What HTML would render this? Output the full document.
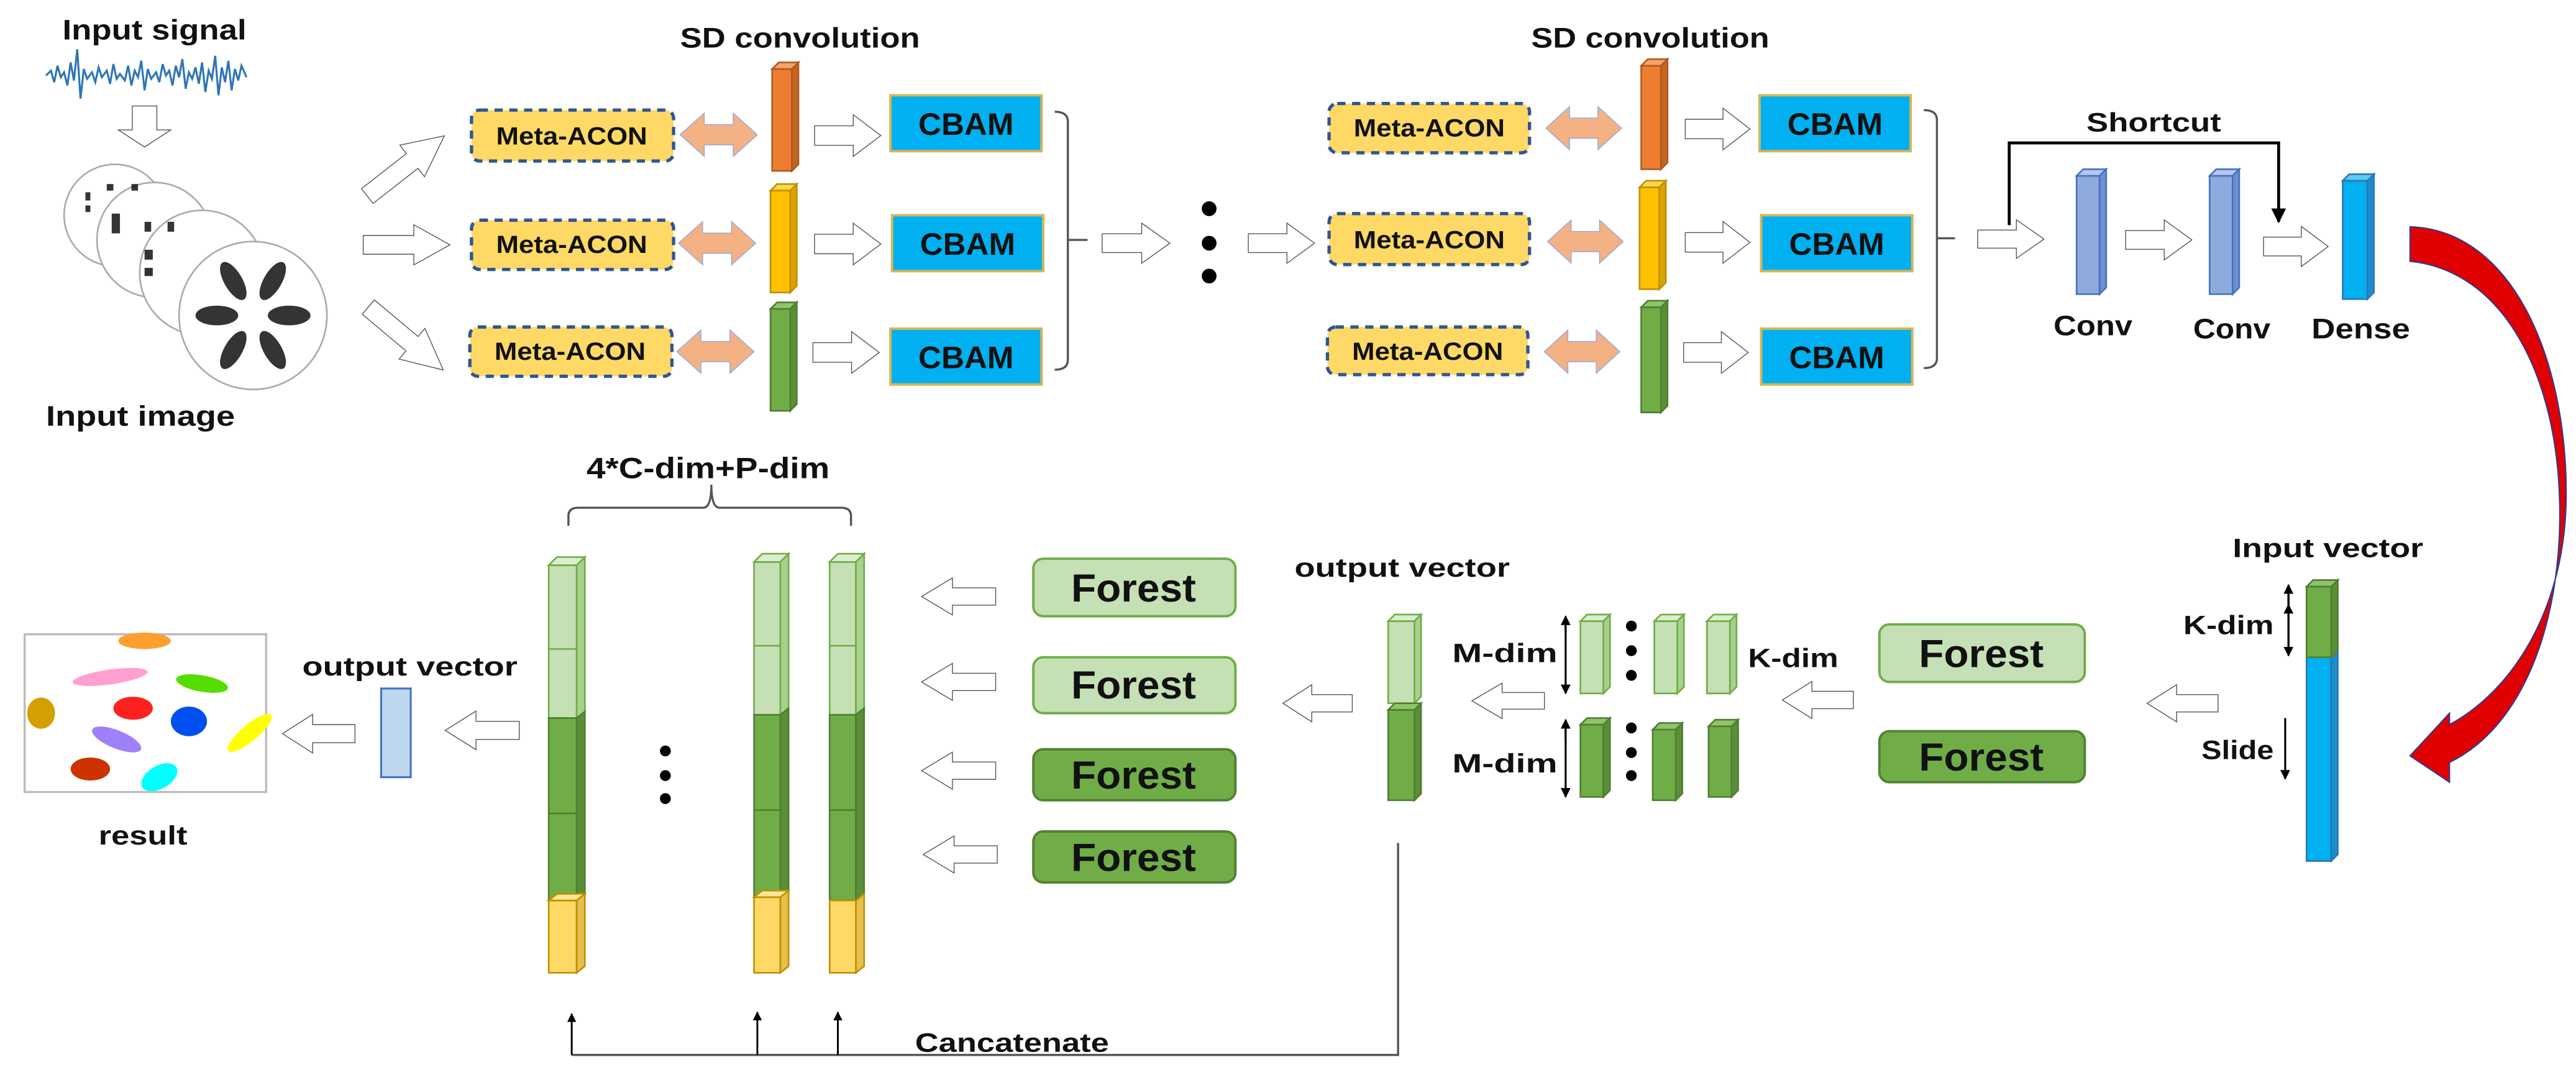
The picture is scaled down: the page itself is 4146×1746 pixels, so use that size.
<!DOCTYPE html>
<html><head><meta charset="utf-8"><style>
html,body{margin:0;padding:0;background:#fff;}
svg{display:block;}
text{font-family:"Liberation Sans",sans-serif;font-weight:bold;fill:#111;}
</style></head><body>
<svg width="4146" height="1746" viewBox="0 0 1568 660.3" preserveAspectRatio="none" xmlns="http://www.w3.org/2000/svg">
<defs>
<symbol id="ar" viewBox="0 0 100 100" preserveAspectRatio="none"><path d="M2,28 H58 V3 L98,50 L58,97 V72 H2 Z" fill="#fff" stroke="#555" stroke-width="1.4" vector-effect="non-scaling-stroke"/></symbol>
<symbol id="al" viewBox="0 0 100 100" preserveAspectRatio="none"><path d="M98,28 H42 V3 L2,50 L42,97 V72 H98 Z" fill="#fff" stroke="#555" stroke-width="1.4" vector-effect="non-scaling-stroke"/></symbol>
<symbol id="da" viewBox="0 0 100 100" preserveAspectRatio="none"><path d="M2,50 L32,3 V28 H68 V3 L98,50 L68,97 V72 H32 V97 Z" fill="#F4B183" stroke="#8FAADC" stroke-width="1.4" vector-effect="non-scaling-stroke"/></symbol>
<marker id="mh" viewBox="0 0 10 10" refX="9" refY="5" markerWidth="5" markerHeight="5" orient="auto"><path d="M0,0 L10,5 L0,10 Z" fill="#000"/></marker>
</defs>

<!-- Input signal -->
<text x="38" y="24" font-size="17" textLength="112" lengthAdjust="spacingAndGlyphs">Input signal</text>
<polyline fill="none" stroke="#2E75B6" stroke-width="1.2" points="28,46 31,43 33,50 35,40 37,47 39,44 41,52 43,38 45,49 47,30 49,60 51,42 53,48 56,44 58,50 60,41 62,47 65,43 67,51 69,39 71,48 73,45 76,49 78,40 80,52 82,43 84,47 86,37 88,55 90,42 92,48 95,44 97,50 99,39 101,46 103,43 105,52 107,40 109,47 111,36 113,54 115,44 117,48 119,41 121,51 123,38 125,56 127,43 129,48 131,34 133,58 135,41 137,50 139,37 141,55 143,42 145,49 147,40 150,47"/>
<use href="#al" x="75" y="60" width="26" height="34" transform="rotate(-90 88 77)"/>
<!-- polar plots -->
<g fill="#fff" stroke="#aaa" stroke-width="1">
<circle cx="70" cy="131" r="31"/>
<circle cx="94" cy="146" r="35"/>
<circle cx="123" cy="166" r="38"/>
<circle cx="154" cy="192" r="45"/>
</g>
<g fill="#111" opacity="0.85">
<rect x="52" y="117" width="3" height="5"/><rect x="52" y="125" width="3" height="4"/>
<rect x="65" y="112" width="4" height="4"/><rect x="80" y="112" width="4" height="4"/>
<rect x="68" y="130" width="5" height="12"/>
<rect x="88" y="135" width="4" height="6"/><rect x="102" y="135" width="4" height="6"/>
<rect x="88" y="152" width="5" height="6"/><rect x="88" y="163" width="5" height="5"/>
<ellipse cx="132" cy="192" rx="13" ry="6"/><ellipse cx="176" cy="192" rx="13" ry="6"/>
<ellipse cx="142" cy="171" rx="13" ry="5.5" transform="rotate(60 142 171)"/>
<ellipse cx="166" cy="171" rx="13" ry="5.5" transform="rotate(-60 166 171)"/>
<ellipse cx="142" cy="213" rx="13" ry="5.5" transform="rotate(-60 142 213)"/>
<ellipse cx="166" cy="213" rx="13" ry="5.5" transform="rotate(60 166 213)"/>
</g>
<text x="28" y="259" font-size="17" textLength="115" lengthAdjust="spacingAndGlyphs">Input image</text>

<!-- diag arrows -->
<use href="#ar" x="-31" y="-13" width="62" height="26" transform="translate(247,101) rotate(-38)"/>
<use href="#ar" x="220" y="136" width="55" height="26"/>
<use href="#ar" x="-31" y="-13" width="62" height="26" transform="translate(247,206) rotate(40)"/>

<text x="414" y="29" font-size="17" textLength="146" lengthAdjust="spacingAndGlyphs">SD convolution</text>
<text x="932" y="29" font-size="17" textLength="145" lengthAdjust="spacingAndGlyphs">SD convolution</text>

<!-- meta-acon group 1 -->
<g fill="#FFD966" stroke="#2F5597" stroke-width="2" stroke-dasharray="5,4">
<rect x="287" y="67" width="123" height="31" rx="5"/>
<rect x="287" y="134" width="123" height="30" rx="5"/>
<rect x="286" y="199" width="123" height="30" rx="5"/>
<rect x="809" y="63" width="122" height="30" rx="5"/>
<rect x="809" y="130" width="122" height="31" rx="5"/>
<rect x="808" y="199" width="122" height="29" rx="5"/>
</g>
<g font-size="15" text-anchor="middle">
<text x="348" y="88" textLength="92" lengthAdjust="spacingAndGlyphs">Meta-ACON</text>
<text x="348" y="154" textLength="92" lengthAdjust="spacingAndGlyphs">Meta-ACON</text>
<text x="347" y="219" textLength="92" lengthAdjust="spacingAndGlyphs">Meta-ACON</text>
<text x="870" y="83" textLength="92" lengthAdjust="spacingAndGlyphs">Meta-ACON</text>
<text x="870" y="151" textLength="92" lengthAdjust="spacingAndGlyphs">Meta-ACON</text>
<text x="869" y="219" textLength="92" lengthAdjust="spacingAndGlyphs">Meta-ACON</text>
</g>
<use href="#da" x="413" y="68" width="49" height="28"/>
<use href="#da" x="412" y="134" width="49" height="28"/>
<use href="#da" x="411" y="200" width="49" height="28"/>
<use href="#da" x="940" y="64" width="48" height="28"/>
<use href="#da" x="941" y="133" width="48" height="28"/>
<use href="#da" x="939" y="200" width="48" height="28"/>

<!-- conv bars -->
<g stroke-width="1">
<g fill="#ED7D31" stroke="#AE5A21"><rect x="470" y="42" width="12" height="62"/><polygon points="470,42 474,38 486,38 482,42" fill="#F4A46A"/><polygon points="482,42 486,38 486,100 482,104" fill="#C5651F"/></g>
<g fill="#FFC000" stroke="#BF9000"><rect x="469" y="116" width="12" height="62"/><polygon points="469,116 473,112 485,112 481,116" fill="#FFD74D"/><polygon points="481,116 485,112 485,174 481,178" fill="#D9A300"/></g>
<g fill="#70AD47" stroke="#507E32"><rect x="469" y="188" width="12" height="62"/><polygon points="469,188 473,184 485,184 481,188" fill="#8FC46A"/><polygon points="481,188 485,184 485,246 481,250" fill="#5A8F37"/></g>
<g fill="#ED7D31" stroke="#AE5A21"><rect x="999" y="40" width="12" height="63"/><polygon points="999,40 1003,36 1015,36 1011,40" fill="#F4A46A"/><polygon points="1011,40 1015,36 1015,99 1011,103" fill="#C5651F"/></g>
<g fill="#FFC000" stroke="#BF9000"><rect x="998" y="114" width="12" height="62"/><polygon points="998,114 1002,110 1014,110 1010,114" fill="#FFD74D"/><polygon points="1010,114 1014,110 1014,172 1010,176" fill="#D9A300"/></g>
<g fill="#70AD47" stroke="#507E32"><rect x="999" y="187" width="12" height="64"/><polygon points="999,187 1003,183 1015,183 1011,187" fill="#8FC46A"/><polygon points="1011,187 1015,183 1015,247 1011,251" fill="#5A8F37"/></g>
</g>
<use href="#ar" x="495" y="69" width="42" height="27"/>
<use href="#ar" x="495" y="135" width="42" height="27"/>
<use href="#ar" x="494" y="201" width="42" height="27"/>
<use href="#ar" x="1025" y="65" width="41" height="27"/>
<use href="#ar" x="1025" y="134" width="41" height="27"/>
<use href="#ar" x="1024" y="201" width="41" height="27"/>

<!-- CBAM -->
<g fill="#00B0F0" stroke="#D6B656" stroke-width="1.5">
<rect x="542" y="58" width="92" height="34"/>
<rect x="543" y="131" width="92" height="34"/>
<rect x="542" y="200" width="92" height="34"/>
<rect x="1071" y="58" width="92" height="34"/>
<rect x="1072" y="131" width="92" height="34"/>
<rect x="1072" y="200" width="92" height="34"/>
</g>
<g font-size="19" text-anchor="middle">
<text x="588" y="82" textLength="58" lengthAdjust="spacingAndGlyphs">CBAM</text>
<text x="589" y="155" textLength="58" lengthAdjust="spacingAndGlyphs">CBAM</text>
<text x="588" y="224" textLength="58" lengthAdjust="spacingAndGlyphs">CBAM</text>
<text x="1117" y="82" textLength="58" lengthAdjust="spacingAndGlyphs">CBAM</text>
<text x="1118" y="155" textLength="58" lengthAdjust="spacingAndGlyphs">CBAM</text>
<text x="1118" y="224" textLength="58" lengthAdjust="spacingAndGlyphs">CBAM</text>
</g>
<!-- brackets -->
<g fill="none" stroke="#555" stroke-width="1.3">
<path d="M642,68 Q650,68 650,74 V219 Q650,225 642,225 M650,146 H662"/>
<path d="M1171,67 Q1179,67 1179,73 V218 Q1179,224 1171,224 M1179,145 H1190"/>
</g>
<use href="#ar" x="670" y="135" width="43" height="26"/>
<g fill="#000"><circle cx="736" cy="127" r="4.5"/><circle cx="736" cy="148" r="4.5"/><circle cx="736" cy="168" r="4.5"/></g>
<use href="#ar" x="759" y="135" width="42" height="26"/>

<!-- Shortcut section -->
<use href="#ar" x="1203" y="133" width="42" height="25"/>
<g stroke="#4472C4" stroke-width="1">
<rect x="1264" y="107" width="14" height="72" fill="#8FAADC"/><polygon points="1264,107 1268,103 1282,103 1278,107" fill="#B4C7E7"/><polygon points="1278,107 1282,103 1282,175 1278,179" fill="#6F8FCF"/>
<rect x="1345" y="107" width="14" height="72" fill="#8FAADC"/><polygon points="1345,107 1349,103 1363,103 1359,107" fill="#B4C7E7"/><polygon points="1359,107 1363,103 1363,175 1359,179" fill="#6F8FCF"/>
</g>
<g stroke="#2E75B6" stroke-width="1">
<rect x="1426" y="110" width="15" height="72" fill="#00B0F0"/><polygon points="1426,110 1430,106 1445,106 1441,110" fill="#5CCBF5"/><polygon points="1441,110 1445,106 1445,178 1441,182" fill="#1A8DCC"/>
</g>
<use href="#ar" x="1293" y="133" width="42" height="26"/>
<use href="#ar" x="1377" y="137" width="41" height="26"/>
<path d="M1223,137 V87 H1387 V135" fill="none" stroke="#000" stroke-width="1.8" marker-end="url(#mh)"/>
<text x="1270" y="80" font-size="16" textLength="82" lengthAdjust="spacingAndGlyphs">Shortcut</text>
<text x="1250" y="204" font-size="17" textLength="48" lengthAdjust="spacingAndGlyphs">Conv</text>
<text x="1335" y="206" font-size="17" textLength="47" lengthAdjust="spacingAndGlyphs">Conv</text>
<text x="1407" y="206" font-size="17" textLength="60" lengthAdjust="spacingAndGlyphs">Dense</text>

<!-- red arrow -->
<path d="M1467,138 C1530,140 1563,220 1562,304 C1561,370 1530,420 1491,441 L1491,434 L1467,460 L1491,476 L1491,464 C1540,440 1560,370 1558,304 C1556,230 1525,165 1467,159 Z" fill="#E00000" stroke="#2F3B8F" stroke-width="0.8"/>

<!-- input vector -->
<text x="1359" y="339" font-size="16" textLength="116" lengthAdjust="spacingAndGlyphs">Input vector</text>
<g stroke-width="1">
<rect x="1404" y="400" width="15" height="124" fill="#00B0F0" stroke="#2E75B6"/>
<polygon points="1419,400 1423,396 1423,520 1419,524" fill="#1A8DCC" stroke="#2E75B6"/>
<rect x="1404" y="357" width="15" height="43" fill="#70AD47" stroke="#507E32"/>
<polygon points="1404,357 1408,353 1423,353 1419,357" fill="#8FC46A" stroke="#507E32"/>
<polygon points="1419,357 1423,353 1423,396 1419,400" fill="#5A8F37" stroke="#507E32"/>
</g>
<g stroke="#000" stroke-width="1.2" marker-end="url(#mh)" marker-start="url(#mh)">
<line x1="1393" y1="368" x2="1393" y2="356"/>
</g>
<line x1="1393" y1="358" x2="1393" y2="399" stroke="#000" stroke-width="1.2" marker-end="url(#mh)"/>
<line x1="1393" y1="399" x2="1393" y2="356" stroke="#000" stroke-width="1.2" marker-end="url(#mh)"/>
<line x1="1391" y1="437" x2="1391" y2="474" stroke="#000" stroke-width="1.2" marker-end="url(#mh)"/>
<text x="1329" y="386" font-size="16" textLength="55" lengthAdjust="spacingAndGlyphs">K-dim</text>
<text x="1340" y="462" font-size="16" textLength="44" lengthAdjust="spacingAndGlyphs">Slide</text>
<use href="#al" x="1306" y="416" width="45" height="24"/>

<!-- forest pair -->
<rect x="1144" y="380" width="125" height="35" rx="6" fill="#C5E0B4" stroke="#70AD47" stroke-width="1.5"/>
<rect x="1144" y="445" width="125" height="31" rx="6" fill="#70AD47" stroke="#548235" stroke-width="1.5"/>
<text x="1206" y="406" font-size="24" text-anchor="middle" textLength="76" lengthAdjust="spacingAndGlyphs">Forest</text>
<text x="1206" y="469" font-size="24" text-anchor="middle" textLength="76" lengthAdjust="spacingAndGlyphs">Forest</text>
<use href="#al" x="1084" y="414" width="45" height="24"/>
<text x="1064" y="406" font-size="16" textLength="55" lengthAdjust="spacingAndGlyphs">K-dim</text>

<!-- small bars -->
<g stroke="#70AD47" stroke-width="1">
<g fill="#C5E0B4"><rect x="962" y="378" width="14" height="44"/><polygon points="962,378 966,374 980,374 976,378" fill="#DCEDD0"/><polygon points="976,378 980,374 980,418 976,422" fill="#A9D18E"/></g>
<g fill="#C5E0B4"><rect x="1007" y="378" width="14" height="44"/><polygon points="1007,378 1011,374 1025,374 1021,378" fill="#DCEDD0"/><polygon points="1021,378 1025,374 1025,418 1021,422" fill="#A9D18E"/></g>
<g fill="#C5E0B4"><rect x="1039" y="378" width="14" height="44"/><polygon points="1039,378 1043,374 1057,374 1053,378" fill="#DCEDD0"/><polygon points="1053,378 1057,374 1057,418 1053,422" fill="#A9D18E"/></g>
</g>
<g stroke="#507E32" stroke-width="1">
<g fill="#70AD47"><rect x="962" y="441" width="14" height="44"/><polygon points="962,441 966,437 980,437 976,441" fill="#8FC46A"/><polygon points="976,441 980,437 980,481 976,485" fill="#5A8F37"/></g>
<g fill="#70AD47"><rect x="1006" y="444" width="14" height="43"/><polygon points="1006,444 1010,440 1024,440 1020,444" fill="#8FC46A"/><polygon points="1020,444 1024,440 1024,483 1020,487" fill="#5A8F37"/></g>
<g fill="#70AD47"><rect x="1040" y="442" width="14" height="43"/><polygon points="1040,442 1044,438 1058,438 1054,442" fill="#8FC46A"/><polygon points="1054,442 1058,438 1058,481 1054,485" fill="#5A8F37"/></g>
</g>
<g fill="#000"><circle cx="993" cy="381" r="3.3"/><circle cx="993" cy="396" r="3.3"/><circle cx="993" cy="411" r="3.3"/><circle cx="993" cy="443" r="3.3"/><circle cx="993" cy="458" r="3.3"/><circle cx="993" cy="472" r="3.3"/></g>
<line x1="953" y1="385" x2="953" y2="375" stroke="#000" stroke-width="1.2" marker-end="url(#mh)"/>
<line x1="953" y1="380" x2="953" y2="422" stroke="#000" stroke-width="1.2" marker-end="url(#mh)"/>
<line x1="953" y1="450" x2="953" y2="438" stroke="#000" stroke-width="1.2" marker-end="url(#mh)"/>
<line x1="953" y1="443" x2="953" y2="485" stroke="#000" stroke-width="1.2" marker-end="url(#mh)"/>
<text x="884" y="403" font-size="16" textLength="64" lengthAdjust="spacingAndGlyphs">M-dim</text>
<text x="884" y="470" font-size="16" textLength="64" lengthAdjust="spacingAndGlyphs">M-dim</text>
<use href="#al" x="895" y="415" width="46" height="23"/>

<!-- output vector bar -->
<text x="788" y="351" font-size="16" textLength="131" lengthAdjust="spacingAndGlyphs">output vector</text>
<g stroke-width="1">
<rect x="845" y="378" width="16" height="50" fill="#C5E0B4" stroke="#70AD47"/>
<polygon points="845,378 849,374 865,374 861,378" fill="#DCEDD0" stroke="#70AD47"/>
<polygon points="861,378 865,374 865,424 861,428" fill="#A9D18E" stroke="#70AD47"/>
<rect x="845" y="432" width="16" height="55" fill="#70AD47" stroke="#507E32"/>
<polygon points="845,432 849,428 865,428 861,432" fill="#8FC46A" stroke="#507E32"/>
<polygon points="861,432 865,428 865,483 861,487" fill="#5A8F37" stroke="#507E32"/>
</g>
<use href="#al" x="780" y="416" width="44" height="24"/>
<path d="M851,513 V642 H348" fill="none" stroke="#555" stroke-width="1.3"/>
<line x1="348" y1="642" x2="348" y2="617" stroke="#000" stroke-width="1.1" marker-end="url(#mh)"/>
<line x1="461" y1="642" x2="461" y2="616" stroke="#000" stroke-width="1.1" marker-end="url(#mh)"/>
<line x1="510" y1="642" x2="510" y2="616" stroke="#000" stroke-width="1.1" marker-end="url(#mh)"/>
<text x="557" y="640" font-size="16" textLength="118" lengthAdjust="spacingAndGlyphs">Cancatenate</text>

<!-- Forest x4 -->
<rect x="629" y="340" width="123" height="35" rx="6" fill="#C5E0B4" stroke="#70AD47" stroke-width="1.5"/>
<rect x="629" y="400" width="123" height="34" rx="6" fill="#C5E0B4" stroke="#70AD47" stroke-width="1.5"/>
<rect x="629" y="456" width="123" height="31" rx="6" fill="#70AD47" stroke="#548235" stroke-width="1.5"/>
<rect x="629" y="506" width="123" height="31" rx="6" fill="#70AD47" stroke="#548235" stroke-width="1.5"/>
<g font-size="24" text-anchor="middle">
<text x="690" y="366" textLength="76" lengthAdjust="spacingAndGlyphs">Forest</text>
<text x="690" y="425" textLength="76" lengthAdjust="spacingAndGlyphs">Forest</text>
<text x="690" y="480" textLength="76" lengthAdjust="spacingAndGlyphs">Forest</text>
<text x="690" y="530" textLength="76" lengthAdjust="spacingAndGlyphs">Forest</text>
</g>
<use href="#al" x="560" y="351" width="47" height="24"/>
<use href="#al" x="560" y="403" width="47" height="24"/>
<use href="#al" x="560" y="457" width="47" height="24"/>
<use href="#al" x="561" y="508" width="47" height="24"/>

<!-- tall bars -->
<g stroke-width="1">
<!-- A -->
<g transform="translate(334,0)">
<rect x="0" y="344" width="17" height="93" fill="#C5E0B4" stroke="#70AD47"/><line x1="0" y1="395" x2="17" y2="395" stroke="#70AD47"/>
<polygon points="0,344 5,339 22,339 17,344" fill="#DCEDD0" stroke="#70AD47"/><polygon points="17,344 22,339 22,433 17,437" fill="#A9D18E" stroke="#70AD47"/>
<rect x="0" y="437" width="17" height="111" fill="#70AD47" stroke="#507E32"/><line x1="0" y1="495" x2="17" y2="495" stroke="#507E32"/>
<polygon points="17,437 22,433 22,544 17,548" fill="#5A8F37" stroke="#507E32"/>
<rect x="0" y="548" width="17" height="44" fill="#FFD966" stroke="#BF9000"/>
<polygon points="0,548 5,544 22,544 17,548" fill="#FFE699" stroke="#BF9000"/><polygon points="17,548 22,544 22,588 17,592" fill="#E6C04D" stroke="#BF9000"/>
</g>
<g transform="translate(459,-2)">
<rect x="0" y="344" width="16" height="93" fill="#C5E0B4" stroke="#70AD47"/><line x1="0" y1="395" x2="16" y2="395" stroke="#70AD47"/>
<polygon points="0,344 5,339 21,339 16,344" fill="#DCEDD0" stroke="#70AD47"/><polygon points="16,344 21,339 21,433 16,437" fill="#A9D18E" stroke="#70AD47"/>
<rect x="0" y="437" width="16" height="111" fill="#70AD47" stroke="#507E32"/><line x1="0" y1="495" x2="16" y2="495" stroke="#507E32"/>
<polygon points="16,437 21,433 21,544 16,548" fill="#5A8F37" stroke="#507E32"/>
<rect x="0" y="548" width="16" height="46" fill="#FFD966" stroke="#BF9000"/>
<polygon points="0,548 5,544 21,544 16,548" fill="#FFE699" stroke="#BF9000"/><polygon points="16,548 21,544 21,590 16,594" fill="#E6C04D" stroke="#BF9000"/>
</g>
<g transform="translate(505,-2)">
<rect x="0" y="344" width="16" height="93" fill="#C5E0B4" stroke="#70AD47"/><line x1="0" y1="395" x2="16" y2="395" stroke="#70AD47"/>
<polygon points="0,344 5,339 21,339 16,344" fill="#DCEDD0" stroke="#70AD47"/><polygon points="16,344 21,339 21,433 16,437" fill="#A9D18E" stroke="#70AD47"/>
<rect x="0" y="437" width="16" height="113" fill="#70AD47" stroke="#507E32"/><line x1="0" y1="495" x2="16" y2="495" stroke="#507E32"/>
<polygon points="16,437 21,433 21,546 16,550" fill="#5A8F37" stroke="#507E32"/>
<rect x="0" y="550" width="16" height="44" fill="#FFD966" stroke="#BF9000"/>
<polygon points="16,550 21,546 21,590 16,594" fill="#E6C04D" stroke="#BF9000"/>
</g>
</g>
<g fill="#000"><circle cx="405" cy="457" r="3.3"/><circle cx="405" cy="472" r="3.3"/><circle cx="405" cy="486" r="3.3"/></g>
<text x="357" y="291" font-size="18" textLength="148" lengthAdjust="spacingAndGlyphs">4*C-dim+P-dim</text>
<path d="M346,320 V314 Q346,309 352,309 H428 Q433,309 433,295 Q433,309 438,309 H512 Q518,309 518,314 V320" fill="none" stroke="#555" stroke-width="1.3"/>

<!-- left part -->
<use href="#al" x="270" y="432" width="47" height="25"/>
<rect x="232" y="419" width="18" height="54" fill="#BDD7EE" stroke="#4472C4" stroke-width="1.2"/>
<text x="184" y="411" font-size="16" textLength="131" lengthAdjust="spacingAndGlyphs">output vector</text>
<use href="#al" x="171" y="434" width="46" height="25"/>
<rect x="15" y="386" width="147" height="96" fill="#fff" stroke="#bbb" stroke-width="1.3"/>
<g>
<ellipse cx="88" cy="390" rx="16" ry="5" fill="#FF9F2F"/>
<ellipse cx="67" cy="412" rx="23" ry="4.5" fill="#FFA0D0" transform="rotate(-8 67 412)"/>
<ellipse cx="123" cy="416" rx="16" ry="5" fill="#55DD00" transform="rotate(10 123 416)"/>
<ellipse cx="25" cy="434" rx="8.5" ry="9.5" fill="#D4A000"/>
<ellipse cx="81" cy="431" rx="12" ry="7" fill="#FF2020"/>
<ellipse cx="115" cy="439" rx="11" ry="9" fill="#0050F0"/>
<ellipse cx="71" cy="450" rx="16" ry="5.5" fill="#A080F8" transform="rotate(22 71 450)"/>
<ellipse cx="152" cy="446" rx="17" ry="5" fill="#FFFF00" transform="rotate(-40 152 446)"/>
<ellipse cx="55" cy="468" rx="12" ry="7" fill="#CC3300"/>
<ellipse cx="97" cy="473" rx="12" ry="7" fill="#00FFFF" transform="rotate(-30 97 473)"/>
</g>
<text x="60" y="514" font-size="16" textLength="54" lengthAdjust="spacingAndGlyphs">result</text>
</svg>
</body></html>
